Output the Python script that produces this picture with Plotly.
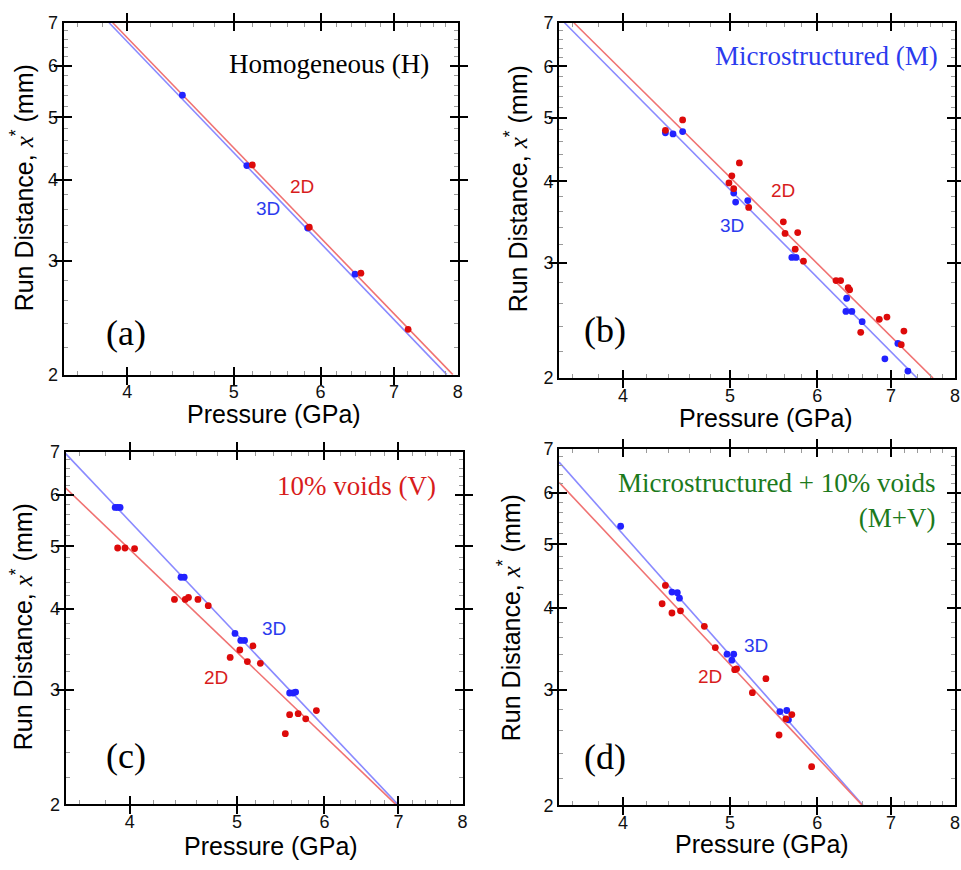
import math
import plotly.graph_objects as go

# ---------------- data (Pressure GPa, run distance mm) ----------------
# Panel (a) Homogeneous
a2_p = [5.20, 5.86, 6.53, 7.21]
a2_x = [4.22, 3.38, 2.87, 2.35]
a3_p = [4.49, 5.14, 5.84, 6.45]
a3_x = [5.41, 4.21, 3.37, 2.86]
a2_fit_p = [3.88, 7.92]
a2_fit_x = [7.0, 2.0]
a3_fit_p = [3.85, 7.82]
a3_fit_x = [7.0, 2.0]

# Panel (b) Microstructured
b2_p = [4.37, 4.53, 4.99, 5.02, 5.10, 5.04, 5.20, 5.59, 5.61, 5.76, 5.73, 5.83,
        6.24, 6.30, 6.40, 6.42, 6.57, 6.83, 6.94, 7.19, 7.15]
b2_x = [4.79, 4.97, 3.98, 4.08, 4.27, 3.90, 3.65, 3.47, 3.33, 3.34, 3.15, 3.02,
        2.82, 2.82, 2.75, 2.73, 2.35, 2.46, 2.48, 2.36, 2.25]
b3_p = [4.37, 4.44, 4.53, 5.04, 5.06, 5.19, 5.69, 5.74, 6.38, 6.37, 6.45, 6.59,
        7.10, 6.91, 7.25]
b3_x = [4.75, 4.73, 4.77, 3.84, 3.72, 3.74, 3.06, 3.06, 2.65, 2.53, 2.53, 2.44,
        2.26, 2.14, 2.05]
b2_fit_p = [3.61, 7.64]
b2_fit_x = [7.0, 2.0]
b3_fit_p = [3.54, 7.39]
b3_fit_x = [7.0, 2.0]

# Panel (c) 10% voids
c2_p = [3.90, 3.96, 4.04, 4.39, 4.49, 4.52, 4.61, 4.71, 4.93, 5.03, 5.11, 5.17,
        5.25, 5.53, 5.58, 5.68, 5.77, 5.90]
c2_x = [4.97, 4.97, 4.96, 4.14, 4.14, 4.17, 4.14, 4.05, 3.37, 3.46, 3.32, 3.51,
        3.30, 2.57, 2.75, 2.76, 2.71, 2.79]
c3_p = [3.88, 3.90, 3.92, 4.45, 4.48, 4.98, 5.04, 5.08, 5.58, 5.62, 5.65]
c3_x = [5.74, 5.74, 5.74, 4.48, 4.48, 3.67, 3.58, 3.58, 2.97, 2.97, 2.98]
c2_fit_p = [3.5, 6.96]
c2_fit_x = [6.15, 2.0]
c3_fit_p = [3.5, 6.99]
c3_fit_x = [6.95, 2.0]

# Panel (d) Microstructured + 10% voids
d2_p = [4.37, 4.34, 4.43, 4.51, 4.74, 4.85, 5.05, 5.07, 5.24, 5.39, 5.54, 5.62,
        5.69, 5.93]
d2_x = [4.33, 4.06, 3.93, 3.96, 3.75, 3.48, 3.22, 3.23, 2.97, 3.12, 2.56, 2.71,
        2.75, 2.29]
d3_p = [3.98, 4.43, 4.48, 4.50, 4.97, 5.04, 5.02, 5.55, 5.63, 5.65]
d3_x = [5.33, 4.23, 4.22, 4.14, 3.40, 3.40, 3.33, 2.78, 2.79, 2.70]
d2_fit_p = [3.5, 6.59]
d2_fit_x = [6.22, 2.0]
d3_fit_p = [3.5, 6.60]
d3_fit_x = [6.68, 2.0]

x_major = [4, 5, 6, 7, 8]
x_minor = [3.6, 3.8, 4.2, 4.4, 4.6, 4.8, 5.2, 5.4, 5.6, 5.8, 6.2, 6.4, 6.6, 6.8,
           7.2, 7.4, 7.6, 7.8]
y_major = [2, 3, 4, 5, 6, 7]
y_minor = [2.2, 2.4, 2.6, 2.8, 3.2, 3.4, 3.6, 3.8, 4.2, 4.4, 4.6, 4.8, 5.2, 5.4,
           5.6, 5.8, 6.2, 6.4, 6.6, 6.8]
x_lim = [3.5, 8]
y_lim = [2, 7]

x_title = "Pressure (GPa)"
y_title = ("Run Distance, <span style='font-family:Liberation Serif'><i>x</i></span>"
           "<sup>*</sup> (mm)")
panel_titles = ["Homogeneous (H)", "Microstructured (M)", "10% voids (V)",
                "Microstructured + 10% voids<br>(M+V)"]
panel_labels = ["(a)", "(b)", "(c)", "(d)"]

# ---------------- styling ----------------
RED_DOT = "#dd0a0a"
BLUE_DOT = "#2222ff"
RED_LINE = "#f07272"
BLUE_LINE = "#8a8aff"
RED_TXT = "#d81c1c"
BLUE_TXT = "#2b3bee"
GREEN_TXT = "#1c7a1c"
SANS = "Liberation Sans"
SERIF = "Liberation Serif"

domains = [
    ([0.0666, 0.4787], [0.571, 0.985]),
    ([0.5848, 0.9990], [0.567, 0.985]),
    ([0.0687, 0.4839], [0.0655, 0.4805]),
    ([0.5848, 0.9990], [0.0644, 0.4839]),
]

panels = [
    (a2_p, a2_x, a3_p, a3_x, a2_fit_p, a2_fit_x, a3_fit_p, a3_fit_x),
    (b2_p, b2_x, b3_p, b3_x, b2_fit_p, b2_fit_x, b3_fit_p, b3_fit_x),
    (c2_p, c2_x, c3_p, c3_x, c2_fit_p, c2_fit_x, c3_fit_p, c3_fit_x),
    (d2_p, d2_x, d3_p, d3_x, d2_fit_p, d2_fit_x, d3_fit_p, d3_fit_x),
]

fig = go.Figure()
layout = dict(
    width=961, height=870,
    margin=dict(l=0, r=0, t=0, b=0),
    paper_bgcolor="white", plot_bgcolor="white",
    showlegend=False,
)

xrange_log = [math.log10(x_lim[0]), math.log10(x_lim[1])]
yrange_log = [math.log10(y_lim[0]), math.log10(y_lim[1])]

for i, (p2, x2, p3, x3, f2p, f2x, f3p, f3x) in enumerate(panels):
    n = "" if i == 0 else str(i + 1)
    m = str(i + 5)
    xa, ya = "x" + n, "y" + n
    xm, ym = "x" + m, "y" + m
    fig.add_trace(go.Scatter(x=f3p, y=f3x, mode="lines", xaxis=xa, yaxis=ya,
                             line=dict(color=BLUE_LINE, width=1.6)))
    fig.add_trace(go.Scatter(x=f2p, y=f2x, mode="lines", xaxis=xa, yaxis=ya,
                             line=dict(color=RED_LINE, width=1.6)))
    fig.add_trace(go.Scatter(x=p3, y=x3, mode="markers", xaxis=xa, yaxis=ya,
                             marker=dict(color=BLUE_DOT, size=6.8)))
    fig.add_trace(go.Scatter(x=p2, y=x2, mode="markers", xaxis=xa, yaxis=ya,
                             marker=dict(color=RED_DOT, size=6.8)))
    # empty traces so the minor-tick overlay axes get drawn
    fig.add_trace(go.Scatter(x=[], y=[], xaxis=xm, yaxis=ya, hoverinfo="skip"))
    fig.add_trace(go.Scatter(x=[], y=[], xaxis=xa, yaxis=ym, hoverinfo="skip"))

    xd, yd = domains[i]
    common = dict(
        type="log", showline=True, linecolor="black", linewidth=2,
        mirror="allticks", ticks="inside", ticklen=8, tickwidth=2,
        tickcolor="black", showgrid=False, zeroline=False,
        tickfont=dict(family=SANS, size=18, color="#111111"),
    )
    xaxis = dict(common)
    xaxis.update(domain=xd, anchor=ya, range=xrange_log,
                 tickmode="array", tickvals=x_major,
                 ticktext=[str(v) for v in x_major])
    yaxis = dict(common)
    yaxis.update(domain=yd, anchor=xa, range=yrange_log,
                 tickmode="array", tickvals=y_major,
                 ticktext=[str(v) for v in y_major])
    minor_common = dict(
        type="log", showline=False, mirror="allticks", ticks="inside",
        ticklen=4, tickwidth=1, tickcolor="#9a9a9a", showgrid=False,
        zeroline=False, showticklabels=False, tickmode="array",
    )
    xminor = dict(minor_common)
    xminor.update(domain=xd, anchor=ya, overlaying=xa, range=xrange_log,
                  tickvals=x_minor)
    yminor = dict(minor_common)
    yminor.update(domain=yd, anchor=xa, overlaying=ya, range=yrange_log,
                  tickvals=y_minor)
    layout["xaxis" + n] = xaxis
    layout["yaxis" + n] = yaxis
    layout["xaxis" + m] = xminor
    layout["yaxis" + m] = yminor

fig.update_layout(**layout)

# annotation positions (fractions of each panel's plotting area)
label_pos = [(0.159, 0.119), (0.116, 0.135), (0.152, 0.138), (0.116, 0.134)]
title_pos = [(0.932, 0.883), (0.962, 0.907), (0.937, 0.903), (0.955, 0.856)]
title_col = ["black", BLUE_TXT, RED_TXT, GREEN_TXT]
lab2d = [(0.606, 0.536), (0.565, 0.527), (0.378, 0.360), (0.380, 0.362)]
lab3d = [(0.518, 0.472), (0.437, 0.429), (0.524, 0.499), (0.497, 0.449)]
xtitle_pos = [(0.533, -0.112), (0.523, -0.113), (0.518, -0.118), (0.512, -0.109)]
ytitle_pos = [(-0.1035, 0.532), (-0.108, 0.532), (-0.110, 0.502), (-0.126, 0.525)]

for i in range(4):
    n = "" if i == 0 else str(i + 1)
    xr, yr = "x" + n + " domain", "y" + n + " domain"
    fig.add_annotation(text=x_title, x=xtitle_pos[i][0], y=xtitle_pos[i][1],
                       xref=xr, yref=yr, showarrow=False, borderpad=0,
                       xanchor="center", yanchor="middle",
                       font=dict(family=SANS, size=25, color="black"))
    fig.add_annotation(text=y_title, x=ytitle_pos[i][0], y=ytitle_pos[i][1],
                       xref=xr, yref=yr, showarrow=False, textangle=-90,
                       borderpad=0, xanchor="center", yanchor="middle",
                       font=dict(family=SANS, size=25, color="black"))
    fig.add_annotation(text=panel_labels[i], x=label_pos[i][0], y=label_pos[i][1],
                       xref=xr, yref=yr, showarrow=False,
                       xanchor="center", yanchor="middle",
                       font=dict(family=SERIF, size=36, color="black"))
    fig.add_annotation(text=panel_titles[i], x=title_pos[i][0], y=title_pos[i][1],
                       xref=xr, yref=yr, showarrow=False, xanchor="right",
                       yanchor="middle", align="right",
                       font=dict(family=SERIF, size=27, color=title_col[i]))
    fig.add_annotation(text="2D", x=lab2d[i][0], y=lab2d[i][1],
                       xref=xr, yref=yr, showarrow=False,
                       xanchor="center", yanchor="middle",
                       font=dict(family=SANS, size=19, color=RED_TXT))
    fig.add_annotation(text="3D", x=lab3d[i][0], y=lab3d[i][1],
                       xref=xr, yref=yr, showarrow=False,
                       xanchor="center", yanchor="middle",
                       font=dict(family=SANS, size=19, color=BLUE_TXT))

fig.write_html("out.html")
